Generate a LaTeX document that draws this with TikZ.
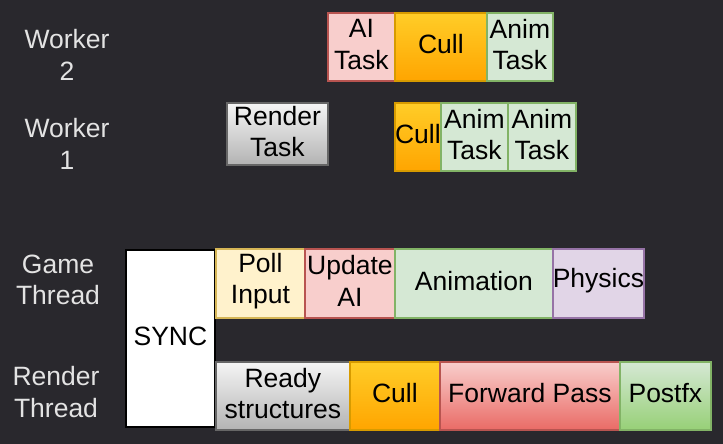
\documentclass[tikz,border=0pt]{standalone}
\usepackage{fontspec}
\setmainfont{Liberation Sans}
\definecolor{bg}{HTML}{29282D}
\definecolor{lbl}{HTML}{E3E3E3}
\definecolor{redF}{HTML}{F8CECC}\definecolor{redS}{HTML}{B85450}\definecolor{redG}{HTML}{EA6B66}
\definecolor{orF}{HTML}{FFCD28}\definecolor{orG}{HTML}{FFA500}\definecolor{orS}{HTML}{D79B00}
\definecolor{grF}{HTML}{D5E8D4}\definecolor{grS}{HTML}{82B366}\definecolor{grG}{HTML}{97D077}
\definecolor{gyF}{HTML}{F5F5F5}\definecolor{gyG}{HTML}{B3B3B3}\definecolor{gyS}{HTML}{666666}
\definecolor{ylF}{HTML}{FFF2CC}\definecolor{ylS}{HTML}{D6B656}
\definecolor{puF}{HTML}{E1D5E7}\definecolor{puS}{HTML}{9673A6}
\tikzset{
  box/.style={draw, line width=1.8pt, inner sep=0pt, anchor=north west},
  boxtext/.style={align=center, inner sep=0pt, yshift=2.5pt,
    font=\fontsize{26.5}{31.5}\selectfont, text=black},
  redbox/.style={box, fill=redF, draw=redS},
  redgrad/.style={box, top color=redF, bottom color=redG, draw=redS},
  culbox/.style={box, top color=orF, bottom color=orG, draw=orS},
  anibox/.style={box, fill=grF, draw=grS},
  grngrad/.style={box, top color=grF, bottom color=grG, draw=grS},
  graybox/.style={box, top color=gyF, bottom color=gyG, draw=gyS},
  pollbox/.style={box, fill=ylF, draw=ylS},
  physbox/.style={box, fill=puF, draw=puS},
  syncbox/.style={box, fill=white, draw=black},
  lab/.style={align=center, text=lbl, font=\fontsize{26.5}{31.5}\selectfont, inner sep=0pt},
}
\newcommand{\blk}[7]{%
  \node[#2, minimum width=#5pt, minimum height=#6pt,
        label={[boxtext]center:{#7}}] (#1) at (#3,#4) {};}
\begin{document}
\begin{tikzpicture}[x=1pt,y=-1pt]
\fill[bg] (0,0) rectangle (723,444);
\useasboundingbox (0,0) rectangle (723,444);
% labels
\node[lab] (w2) at (67,55) {Worker\\2};
\node[lab] (w1) at (67,144) {Worker\\1};
\node[lab] (gt) at (58,280) {Game\\Thread};
\node[lab] (rt) at (56,392) {Render\\Thread};
% worker 2
\blk{w2ai}{redbox}{327}{12}{67}{68}{AI\\Task}
\blk{w2cull}{culbox}{394}{12}{92}{68}{Cull}
\blk{w2anim}{anibox}{486}{12}{66}{68}{Anim\\Task}
% worker 1
\blk{w1rt}{graybox}{226}{102}{101}{62}{Render\\Task}
\blk{w1cull}{culbox}{394}{102}{46}{68}{Cull}
\blk{w1a1}{anibox}{440}{102}{67}{68}{Anim\\Task}
\blk{w1a2}{anibox}{507}{102}{68}{68}{Anim\\Task}
% sync
\blk{sync}{syncbox}{125}{249}{89}{177}{SYNC}
% game thread
\blk{poll}{pollbox}{215}{248}{89}{69}{Poll\\Input}
\blk{uai}{redbox}{304}{248}{90}{69}{Update\\AI}
\blk{anim}{anibox}{394}{248}{158}{69}{Animation}
\blk{phys}{physbox}{552}{248}{91}{69}{Physics}
% render thread
\blk{ready}{graybox}{215}{361}{134}{68}{Ready\\structures}
\blk{rcull}{culbox}{349}{361}{90}{68}{Cull}
\blk{fwd}{redgrad}{439}{361}{180}{68}{Forward Pass}
\blk{post}{grngrad}{619}{361}{91}{68}{Postfx}
\end{tikzpicture}
\end{document}
